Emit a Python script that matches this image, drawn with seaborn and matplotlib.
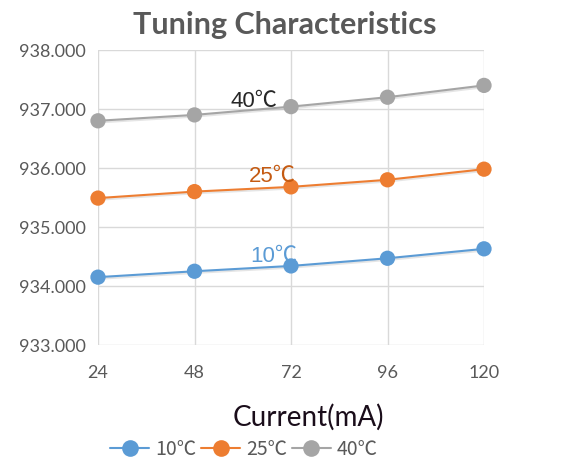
import matplotlib

matplotlib.use('Agg')
import matplotlib.pyplot as plt
import matplotlib.patheffects as pe
import seaborn as sns
import pandas as pd

# 数据
currents = [24, 48, 72, 96, 120]
temps = ['10℃', '25℃', '40℃']
wl_10 = [934.15, 934.25, 934.34, 934.47, 934.63]
wl_25 = [935.49, 935.60, 935.68, 935.80, 935.98]
wl_40 = [936.80, 936.90, 937.04, 937.20, 937.40]
y_ticks = [933, 934, 935, 936, 937, 938]

colors = ['#5B9BD5', '#ED7D31', '#A5A5A5']
label_colors = ['#5B9BD5', '#C55A11', '#262626']
label_pos = [(67.8, 934.51), (67.3, 935.88), (62.8, 937.15)]

df = pd.DataFrame({
    'Current': currents * 3,
    'Wavelength': wl_10 + wl_25 + wl_40,
    'Temp': [t for t in temps for _ in currents],
})

sns.set_style('white')
plt.rcParams['font.family'] = ['Lato', 'DejaVu Sans']

fig = plt.figure(figsize=(5.61, 4.77), dpi=100)
ax = fig.add_axes([98 / 561, 1 - 346 / 477, 386 / 561, 295 / 477])

sns.lineplot(data=df, x='Current', y='Wavelength', hue='Temp', palette=colors,
             marker='o', markersize=11, markeredgewidth=0, linewidth=1.5,
             ax=ax, legend=False, zorder=3)
for line in ax.lines:
    line.set_path_effects([pe.SimpleLineShadow(offset=(0.5, -1.2), shadow_color='#808080', alpha=0.2),
                           pe.Normal()])
    line.set_clip_on(False)

ax.set_xlim(24, 120)
ax.set_ylim(933, 938)
ax.set_xticks(currents)
ax.set_yticks(y_ticks)
ax.set_yticklabels([f'{v:.3f}' for v in y_ticks])
ax.grid(True, color='#D9D9D9', linewidth=1)
for s in ax.spines.values():
    s.set_visible(False)
ax.tick_params(length=0, labelsize=13, labelcolor='#595959')
ax.tick_params(axis='x', pad=14)
ax.tick_params(axis='y', pad=9)

for t, c, (x, y) in zip(temps, label_colors, label_pos):
    ax.text(x, y, t, color=c, fontsize=16, ha='center', va='center',
            family=['Liberation Sans', 'Noto Sans CJK SC'], zorder=4)

ax.set_xlabel('')
ax.set_ylabel('')
fig.text(308 / 561, 1 - 417 / 477, 'Current(mA)', fontsize=20, color='#1A0D1A',
         ha='center', va='center')
fig.text(285 / 561, 1 - 25 / 477, 'Tuning Characteristics', fontsize=22,
         fontweight='bold', color='#595959', ha='center', va='center')

handles = [plt.Line2D([], [], color=c, marker='o', markersize=12, markeredgewidth=0,
                      linewidth=1.5) for c in colors]
fig.legend(handles, temps, loc='center', bbox_to_anchor=(244 / 561, 1 - 450 / 477),
           ncol=3, frameon=False, handlelength=2.0, handletextpad=0.3, columnspacing=0.25,
           prop={'family': ['Noto Sans CJK SC', 'DejaVu Sans'], 'size': 14},
           labelcolor='#595959')

fig.savefig('out.png', dpi=100)
